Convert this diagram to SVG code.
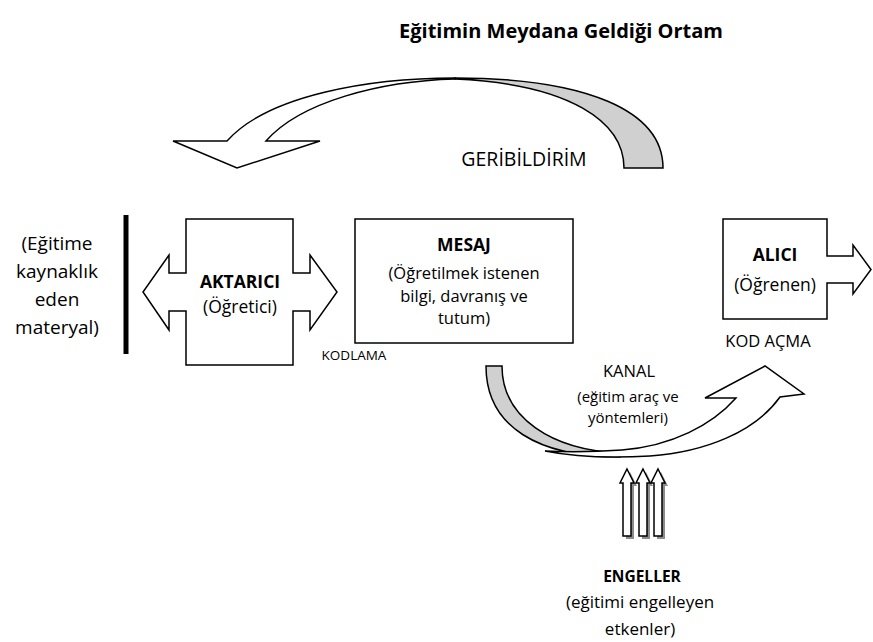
<svg xmlns="http://www.w3.org/2000/svg" width="873" height="642" viewBox="0 0 873 642">
<style>
text{font-family:"Open Sans","Liberation Sans",sans-serif;fill:#000;text-anchor:middle}
.b{font-weight:bold}
.s{stroke:#000;stroke-width:1.5;stroke-linejoin:miter}
.w{fill:#fff}
.g{fill:#d0d0d0}
</style>
<rect width="873" height="642" fill="#fff"/>
<text class="b" x="561" y="38" font-size="20">Eğitimin Meydana Geldiği Ortam</text>

<g id="connectors">
  <g id="geribildirim-arrow">
    <path class="s g" d="M455,78 C585,78 663,110 663,168 L624,168 C624,122 570,84 455,79 Z"/>
    <path class="s w" d="M227,141 L173,141 L237,168 L320,141 L266,141 C300,102 380,81 455,79 L455,78 C370,78 268,95 227,141 Z"/>
  </g>
  <g id="kanal-arrow">
    <path class="s g" d="M486,366 L502,366 C502,418 552,450 620,453 L620,457 C540,457 486,428 486,366 Z"/>
    <path class="s w" d="M545,451 C580,458 615,458 650,456 C705,452 755,432 780,397 L804,394 L765,366 L705,398 L736,398 C712,425 672,446 622,450 C592,452 566,452 545,451 Z"/>
  </g>
  <g id="engel-arrows">
    <path fill="#8c8c8c" d="M630,472 L637,486 L634,486 L634,539 L626,539 L626,486 L623,486 Z"/>
    <path class="s w" d="M627,469 L634,483 L631,483 L631,536 L623,536 L623,483 L620,483 Z"/>
    <path fill="#8c8c8c" d="M646,472 L653,486 L650,486 L650,539 L642,539 L642,486 L639,486 Z"/>
    <path class="s w" d="M643,469 L650,483 L647,483 L647,536 L639,536 L639,483 L636,483 Z"/>
    <path fill="#8c8c8c" d="M661,472 L668,486 L665,486 L665,539 L657,539 L657,486 L654,486 Z"/>
    <path class="s w" d="M658,469 L665,483 L662,483 L662,536 L654,536 L654,483 L651,483 Z"/>
  </g>
</g>
<text x="524" y="166" font-size="19.5">GERİBİLDİRİM</text>

<g id="kaynak">
  <text x="57" y="250" font-size="19">(Eğitime</text>
  <text x="57" y="278" font-size="19">kaynaklık</text>
  <text x="57" y="306" font-size="19">eden</text>
  <text x="57" y="334" font-size="19">materyal)</text>
  <rect x="123.5" y="215" width="5" height="139" fill="#000"/>
</g>

<g id="aktarici">
  <path class="s w" d="M186,219 L293,219 L293,273 L310,273 L310,255 L337,292 L310,330 L310,311 L293,311 L293,365 L186,365 L186,311 L169,311 L169,330 L143,292 L169,255 L169,273 L186,273 Z"/>
  <text class="b" x="240" y="288" font-size="17.5">AKTARICI</text>
  <text x="240" y="313" font-size="17.5">(Öğretici)</text>
</g>
<text x="354" y="360" font-size="13.5">KODLAMA</text>

<g id="mesaj">
  <rect class="s w" x="355" y="219" width="218" height="124"/>
  <text class="b" x="464" y="251" font-size="17.5">MESAJ</text>
  <text x="464" y="279" font-size="16.5">(Öğretilmek istenen</text>
  <text x="464" y="301.5" font-size="16.5">bilgi, davranış ve</text>
  <text x="464" y="324" font-size="16.5">tutum)</text>
</g>

<g id="alici">
  <path class="s w" d="M723,219 L827,219 L827,256 L853,256 L853,245 L871,269.5 L853,294 L853,283 L827,283 L827,319 L723,319 Z"/>
  <text class="b" x="775" y="261" font-size="17.5">ALICI</text>
  <text x="775" y="291" font-size="17.5">(Öğrenen)</text>
</g>
<text x="768" y="347" font-size="16.5">KOD AÇMA</text>

<g id="kanal">
  <text x="629" y="377" font-size="16.5">KANAL</text>
  <text x="628" y="402" font-size="15">(eğitim araç ve</text>
  <text x="628" y="423" font-size="15">yöntemleri)</text>
</g>

<g id="engeller">
  <text class="b" x="642" y="582" font-size="15.5">ENGELLER</text>
  <text x="640" y="608" font-size="17">(eğitimi engelleyen</text>
  <text x="640" y="635" font-size="17">etkenler)</text>
</g>
</svg>
